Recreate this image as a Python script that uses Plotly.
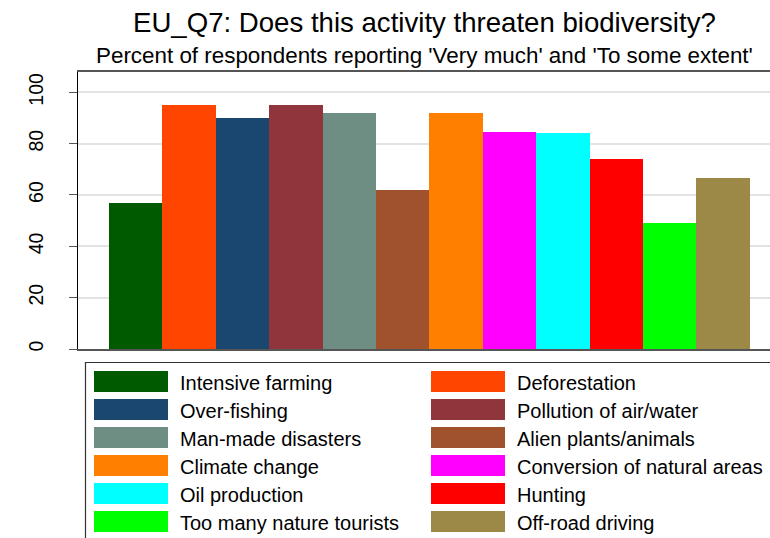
import plotly.graph_objects as go

# data
activities = ["Intensive farming", "Deforestation", "Over-fishing", "Pollution of air/water",
              "Man-made disasters", "Alien plants/animals", "Climate change",
              "Conversion of natural areas", "Oil production", "Hunting",
              "Too many nature tourists", "Off-road driving"]
percent = [57, 95, 90, 95, 92, 62, 92, 84.5, 84, 74, 49, 66.5]
colors = ["#005a00", "#ff4500", "#1a476f", "#90353b", "#6e8e84", "#a0522d",
          "#ff8000", "#ff00ff", "#00ffff", "#ff0000", "#00ff00", "#9c8847"]
yticks = [0, 20, 40, 60, 80, 100]

title = "EU_Q7: Does this activity threaten biodiversity?"
subtitle = "Percent of respondents reporting 'Very much' and 'To some extent'"

W, H = 770, 538
L, T, B = 78, 72, 189          # plot area: x 78..770, y 72..349
FONT = "Liberation Sans, Arial, Helvetica, sans-serif"


def px_x(p):
    return (p - L) / (W - L)


def px_y(p):
    return (H - B - p) / (H - B - T)


fig = go.Figure()
fig.add_trace(go.Bar(x=list(range(len(activities))), y=percent,
                     marker=dict(color=colors, line=dict(width=0)),
                     width=1.0, hovertext=activities, showlegend=False))

# legend built by hand: two columns, big swatches, row-major order
shapes = [dict(type="rect", xref="paper", yref="paper",
               x0=px_x(85.5), x1=px_x(820), y0=px_y(362.5), y1=px_y(600),
               line=dict(color="#333333", width=1.2), fillcolor="white", layer="below")]
annotations = []
for i, (name, col) in enumerate(zip(activities, colors)):
    row, c = divmod(i, 2)
    cy = 381.5 + 28 * row
    sx = 94 if c == 0 else 431
    shapes.append(dict(type="rect", xref="paper", yref="paper",
                       x0=px_x(sx), x1=px_x(sx + 74), y0=px_y(cy - 10.5), y1=px_y(cy + 10.5),
                       line=dict(width=0), fillcolor=col))
    annotations.append(dict(text=name, xref="paper", yref="paper", x=px_x(sx + 84), y=px_y(cy + 1),
                            xanchor="left", yanchor="middle", showarrow=False,
                            font=dict(size=20, color="black", family=FONT)))

annotations.append(dict(text=title, xref="paper", yref="paper", x=0.5, y=px_y(22),
                        xanchor="center", yanchor="middle", showarrow=False,
                        font=dict(size=27.6, color="black", family=FONT)))
annotations.append(dict(text=subtitle, xref="paper", yref="paper", x=0.5, y=px_y(55),
                        xanchor="center", yanchor="middle", showarrow=False,
                        font=dict(size=22.4, color="black", family=FONT)))

fig.update_layout(
    width=W, height=H,
    margin=dict(l=L, r=0, t=T, b=B, pad=0),
    paper_bgcolor="white", plot_bgcolor="white",
    bargap=0,
    font=dict(family=FONT, color="black"),
    shapes=shapes, annotations=annotations,
    xaxis=dict(range=[-1.08, 11.88], showticklabels=False, ticks="", showgrid=False,
               zeroline=False, showline=True, mirror=True, linecolor="#555555", linewidth=1.5),
    yaxis=dict(range=[0, 107.9], tickvals=yticks, tickangle=-90, ticks="outside", ticklen=8,
               tickwidth=1.2, tickcolor="#555555", ticklabelstandoff=18,
               tickfont=dict(size=19.5, family=FONT, color="black"),
               showgrid=True, gridcolor="#e3e3e3", gridwidth=1.5, zeroline=False,
               showline=True, linecolor="black", linewidth=1.2),
)

# drop the page's default body margin so the figure sits at the window corner
fig.write_html("out.html", config={"displayModeBar": False},
               post_script="document.body.style.margin='0px';")
